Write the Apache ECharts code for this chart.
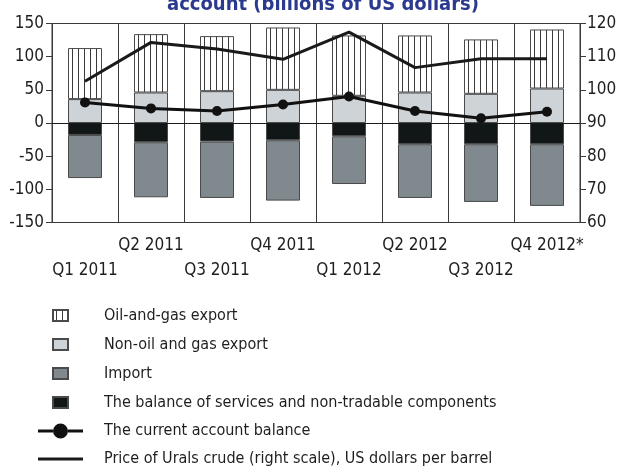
<!DOCTYPE html>
<html>
<head>
<meta charset="utf-8">
<script src="https://cdn.jsdelivr.net/npm/echarts@6/dist/echarts.min.js"></script>
<style>
  html, body { margin: 0; padding: 0; background: #fff; }
  #chart { width: 618px; height: 468px; }
</style>
</head>
<body>
<div id="chart"></div>
<script>
// Quarters on the category axis
const quarters = ['Q1 2011', 'Q2 2011', 'Q3 2011', 'Q4 2011', 'Q1 2012', 'Q2 2012', 'Q3 2012', 'Q4 2012*'];

// Current account components, billions of US dollars
const oilGasExport = [77, 88, 83, 94, 91, 86, 82, 89];
const nonOilExport = [36, 46, 48, 50, 41, 46, 44, 52];
const servicesBalance = [-18, -29, -28, -26, -20, -32, -32, -32];
const importValues = [-65, -83, -85, -91, -72, -81, -87, -93];
const currentAccount = [31, 22, 18, 28, 40, 18, 7, 17];

// Urals crude, US dollars per barrel (right scale)
const uralsPrice = [102.6, 114.3, 112.3, 109.2, 117.4, 106.7, 109.4, 109.4];

// Axis ranges
const leftAxis = { min: -150, max: 150, step: 50 };
const rightAxis = { min: 60, max: 120, step: 10 };

const FONT = '"Liberation Sans Narrow", "Arial Narrow", "DejaVu Sans Condensed", sans-serif';
const INK = '#1e1e1e';

// Vertical hatching used for the oil-and-gas export bars
function hatchPattern() {
  const c = document.createElement('canvas');
  c.width = 6; c.height = 6;
  const g = c.getContext('2d');
  g.fillStyle = '#ffffff';
  g.fillRect(0, 0, 6, 6);
  g.fillStyle = '#3a3a3a';
  g.fillRect(0, 0, 1, 6);
  return { image: c, repeat: 'repeat' };
}

// Legend glyphs share a 45x15 box (the leading moves fix the box size)
const SQUARE_ICON = 'path://M0,0M45,15M15,2h15v11h-15z';
const DOT_LINE_ICON = 'path://M0,0M45,15M0,6h15v3h-15zM30,6h15v3h-15zM15,7.5a7.5,7.5 0 1,0 15,0a7.5,7.5 0 1,0 -15,0z';
const LINE_ICON = 'path://M0,0M45,15M0,6h45v3h-45z';

const chart = echarts.init(document.getElementById('chart'), null, { renderer: 'canvas' });

const barBorder = { borderColor: '#4a4a4a', borderWidth: 1 };

const option = {
  animation: false,
  backgroundColor: '#ffffff',
  graphic: [{
    type: 'text',
    x: 323,
    y: 15,
    style: {
      text: 'account (billions of US dollars)',
      font: 'bold 20px ' + FONT,
      fill: '#2b3a8f',
      textAlign: 'center',
      textVerticalAlign: 'bottom'
    }
  }],
  grid: {
    left: 52, right: 38, top: 23.5, bottom: 245.5,
    outerBoundsMode: 'none',
    containLabel: false,
    show: true, borderColor: '#3a3a3a', borderWidth: 1
  },
  legend: {
    orient: 'vertical',
    left: 37,
    top: 307,
    height: 200,
    padding: 0,
    itemWidth: 45,
    itemHeight: 15,
    itemGap: 12,
    selectedMode: false,
    textStyle: { fontFamily: FONT, fontSize: 16, lineHeight: 15, color: INK, padding: [0, 0, 0, 16] },
    data: [
      { name: 'Oil-and-gas export', icon: SQUARE_ICON },
      { name: 'Non-oil and gas export', icon: SQUARE_ICON },
      { name: 'Import', icon: SQUARE_ICON },
      { name: 'The balance of services and non-tradable components', icon: SQUARE_ICON },
      { name: 'The current account balance', icon: DOT_LINE_ICON },
      { name: 'Price of Urals crude (right scale), US dollars per barrel', icon: LINE_ICON, itemStyle: { color: '#1a1a1a', borderWidth: 0 } }
    ]
  },
  xAxis: {
    type: 'category',
    data: quarters,
    axisLine: { onZero: false, lineStyle: { color: '#3a3a3a', width: 1 } },
    axisTick: { show: false },
    splitLine: { show: true, lineStyle: { color: '#3a3a3a', width: 1 } },
    axisLabel: {
      interval: 0,
      margin: 11,
      verticalAlign: 'top',
      fontFamily: FONT,
      fontSize: 17,
      lineHeight: 24.5,
      color: INK,
      formatter: (v, i) => (i % 2 === 0 ? '\n' + v : v + '\n')
    }
  },
  yAxis: [
    {
      type: 'value',
      min: leftAxis.min, max: leftAxis.max, interval: leftAxis.step,
      axisLine: { show: true, lineStyle: { color: '#3a3a3a' } },
      axisTick: { show: true, length: 6, lineStyle: { color: '#3a3a3a' } },
      splitLine: { show: false },
      axisLabel: { fontFamily: FONT, fontSize: 17, color: INK, margin: 8 }
    },
    {
      type: 'value',
      position: 'right',
      min: rightAxis.min, max: rightAxis.max, interval: rightAxis.step,
      axisLine: { show: true, lineStyle: { color: '#3a3a3a' } },
      axisTick: { show: true, length: 6, lineStyle: { color: '#3a3a3a' } },
      splitLine: { show: false },
      axisLabel: { fontFamily: FONT, fontSize: 17, color: INK, margin: 7 }
    }
  ],
  series: [
    {
      name: 'Non-oil and gas export', type: 'bar', stack: 'ca', barWidth: 34,
      itemStyle: Object.assign({ color: '#cdd3d6' }, barBorder),
      data: nonOilExport
    },
    {
      name: 'Oil-and-gas export', type: 'bar', stack: 'ca', barWidth: 34,
      itemStyle: Object.assign({ color: hatchPattern() }, barBorder),
      data: oilGasExport
    },
    {
      name: 'The balance of services and non-tradable components', type: 'bar', stack: 'ca', barWidth: 34,
      itemStyle: Object.assign({ color: '#111717' }, barBorder),
      data: servicesBalance
    },
    {
      name: 'Import', type: 'bar', stack: 'ca', barWidth: 34,
      itemStyle: Object.assign({ color: '#7f898e' }, barBorder),
      data: importValues,
      markLine: {
        silent: true, symbol: 'none', label: { show: false },
        lineStyle: { color: '#1a1a1a', width: 1, type: 'solid' },
        data: [{ yAxis: 0 }]
      }
    },
    {
      name: 'Price of Urals crude (right scale), US dollars per barrel', type: 'line', yAxisIndex: 1,
      symbol: 'none',
      lineStyle: { color: '#1a1a1a', width: 3 },
      itemStyle: { color: '#1a1a1a' },
      data: uralsPrice
    },
    {
      name: 'The current account balance', type: 'line',
      symbol: 'circle', symbolSize: 10,
      lineStyle: { color: '#111', width: 3 },
      itemStyle: { color: '#111' },
      data: currentAccount
    }
  ]
};

chart.setOption(option);
</script>
</body>
</html>
